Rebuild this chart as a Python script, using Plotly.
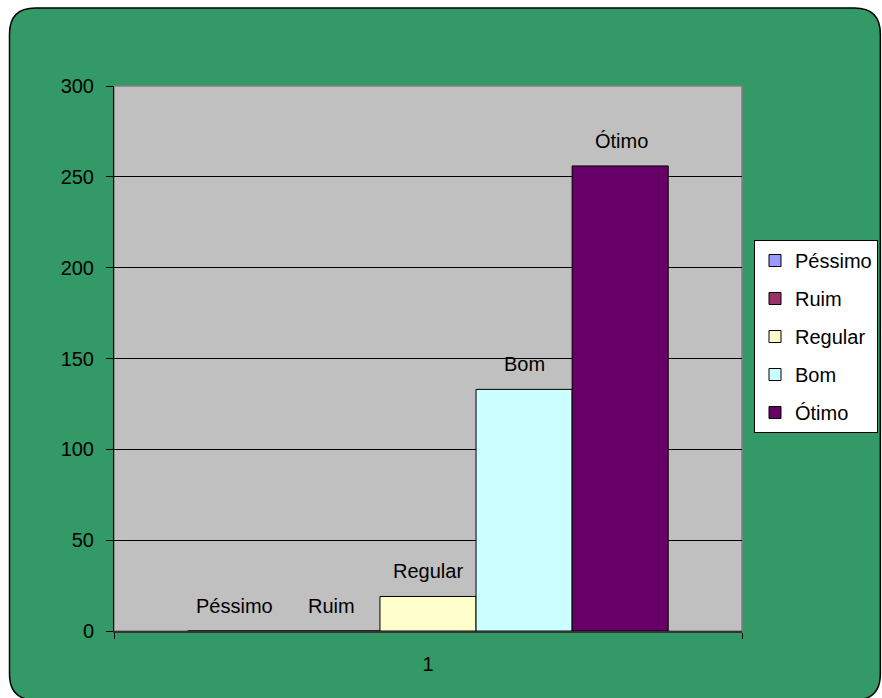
import plotly.graph_objects as go

categories = ["1"]
series_names = ["Péssimo", "Ruim", "Regular", "Bom", "Ótimo"]
series_values = [0, 0, 19, 133, 256]
series_colors = ["#9999FF", "#993366", "#FFFFCC", "#CCFFFF", "#660066"]
y_ticks = [0, 50, 100, 150, 200, 250, 300]

W, H = 882, 698
L, R, T, B = 114, 745, 86, 631  # plot area in pixels
BARGAP = 0.235


def px(x, y):
    # pixel -> paper coords
    return (x - L) / (R - L), (B - y) / (B - T)


def rounded_rect(x0, y0, x1, y1, r):
    pts = [
        ("M", (x0 + r, y0)), ("L", (x1 - r, y0)), ("Q", (x1, y0), (x1, y0 + r)),
        ("L", (x1, y1 - r)), ("Q", (x1, y1), (x1 - r, y1)),
        ("L", (x0 + r, y1)), ("Q", (x0, y1), (x0, y1 - r)),
        ("L", (x0, y0 + r)), ("Q", (x0, y0), (x0 + r, y0)),
    ]
    s = ""
    for cmd, *ps in pts:
        s += cmd + " " + " ".join("%.5f,%.5f" % px(*p) for p in ps) + " "
    return s + "Z"


fig = go.Figure()
n = len(series_names)
bar_px = (R - L) * (1 - BARGAP) / n
annotations = []
for i, (name, val, col) in enumerate(zip(series_names, series_values, series_colors)):
    fig.add_trace(go.Bar(
        x=categories, y=[val], name=name,
        marker=dict(color=col, line=dict(color="black", width=1)),
        legendgroup=name,
    ))
    # label above each bar (category index 0)
    annotations.append(dict(
        x=0, y=val, xref="x", yref="y", text=name, showarrow=False,
        xanchor="center", yanchor="bottom", yshift=12,
        xshift=(i - (n - 1) / 2) * bar_px, font=dict(size=20, color="black"),
    ))

fig.update_layout(
    width=W, height=H,
    margin=dict(l=L, r=W - R, t=T, b=H - B),
    paper_bgcolor="white",
    plot_bgcolor="rgba(0,0,0,0)",
    font=dict(family="Liberation Sans, Arial", size=20, color="black"),
    barmode="group", bargap=BARGAP, bargroupgap=0,
    showlegend=True,
    annotations=annotations,
    legend=dict(
        xref="container", yref="container",
        x=754 / W, y=1 - 240 / H, xanchor="left", yanchor="top",
        bgcolor="white", bordercolor="black", borderwidth=1,
        font=dict(size=20), tracegroupgap=9, traceorder="grouped",
        itemwidth=30,
    ),
    shapes=[
        dict(type="path", xref="paper", yref="paper", layer="below",
             path=rounded_rect(9, 8, 884, 700, 26),
             fillcolor="#339966", line=dict(color="black", width=1.5)),
        dict(type="rect", xref="paper", yref="paper", layer="below",
             x0=0, x1=1, y0=0, y1=1, fillcolor="#C0C0C0",
             line=dict(color="#808080", width=1.5)),
    ],
)
fig.update_yaxes(
    range=[0, 300], tickvals=y_ticks, showgrid=True, gridcolor="black", gridwidth=1,
    showline=True, linecolor="black", linewidth=1,
    ticks="outside", ticklen=7, tickcolor="black", ticklabelstandoff=8,
    zeroline=False,
)
fig.update_xaxes(
    type="category", range=[-0.5, 0.5],
    showline=True, linecolor="#333333", linewidth=2,
    ticks="outside", ticklen=6, tickcolor="black", tickson="boundaries",
    ticklabelstandoff=14,
)

fig.write_html("out.html", config={"displayModeBar": False},
               post_script="document.body.style.margin='0';")
